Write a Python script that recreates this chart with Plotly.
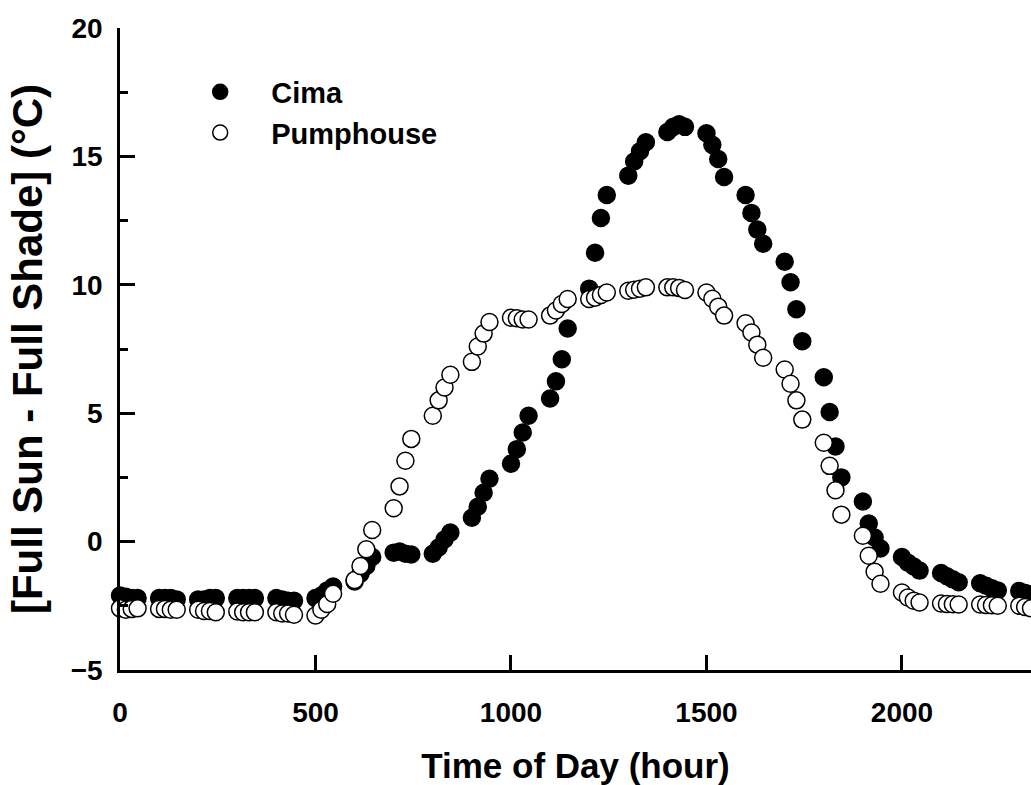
import plotly.graph_objects as go

# Time of day in HHMM, every 15 minutes
time_hhmm = [
    0, 15, 30, 45, 100, 115, 130, 145, 200, 215, 230, 245,
    300, 315, 330, 345, 400, 415, 430, 445, 500, 515, 530, 545,
    600, 615, 630, 645, 700, 715, 730, 745, 800, 815, 830, 845,
    900, 915, 930, 945, 1000, 1015, 1030, 1045, 1100, 1115, 1130, 1145,
    1200, 1215, 1230, 1245, 1300, 1315, 1330, 1345, 1400, 1415, 1430, 1445,
    1500, 1515, 1530, 1545, 1600, 1615, 1630, 1645, 1700, 1715, 1730, 1745,
    1800, 1815, 1830, 1845, 1900, 1915, 1930, 1945, 2000, 2015, 2030, 2045,
    2100, 2115, 2130, 2145, 2200, 2215, 2230, 2245, 2300, 2315, 2330, 2345,
]

# Full sun minus full shade temperature difference (°C)
cima = [
    -2.10, -2.15, -2.20, -2.20, -2.20, -2.20, -2.20, -2.25,
    -2.25, -2.25, -2.20, -2.20, -2.20, -2.20, -2.20, -2.20,
    -2.20, -2.25, -2.30, -2.30, -2.20, -2.10, -1.90, -1.75,
    -1.55, -1.25, -0.95, -0.60, -0.43, -0.39, -0.47, -0.50,
    -0.47, -0.23, 0.08, 0.35, 0.93, 1.36, 1.90, 2.45,
    3.03, 3.60, 4.25, 4.90, 5.57, 6.24, 7.10, 8.30,
    9.85, 11.25, 12.60, 13.50, 14.25, 14.80, 15.20, 15.55,
    15.95, 16.15, 16.25, 16.15, 15.90, 15.45, 14.90, 14.20,
    13.50, 12.80, 12.15, 11.60, 10.90, 10.10, 9.05, 7.80,
    6.40, 5.05, 3.70, 2.50, 1.56, 0.70, 0.16, -0.27,
    -0.60, -0.82, -0.97, -1.13, -1.22, -1.35, -1.47, -1.58,
    -1.62, -1.72, -1.82, -1.90, -1.92, -2.00, -2.05, -2.10,
]

pumphouse = [
    -2.60, -2.65, -2.62, -2.60, -2.62, -2.62, -2.65, -2.65,
    -2.65, -2.70, -2.70, -2.75, -2.72, -2.75, -2.75, -2.75,
    -2.75, -2.80, -2.80, -2.85, -2.88, -2.65, -2.43, -2.03,
    -1.50, -0.95, -0.30, 0.45, 1.30, 2.15, 3.15, 4.00,
    4.90, 5.50, 6.00, 6.50, 7.00, 7.60, 8.10, 8.55,
    8.72, 8.70, 8.65, 8.65, 8.80, 9.00, 9.25, 9.45,
    9.45, 9.50, 9.60, 9.70, 9.77, 9.81, 9.85, 9.90,
    9.90, 9.90, 9.88, 9.80, 9.70, 9.46, 9.15, 8.80,
    8.50, 8.14, 7.67, 7.16, 6.70, 6.15, 5.50, 4.75,
    3.85, 2.95, 2.00, 1.05, 0.23, -0.55, -1.17, -1.64,
    -1.98, -2.18, -2.30, -2.37, -2.41, -2.43, -2.44, -2.45,
    -2.45, -2.47, -2.48, -2.50, -2.50, -2.55, -2.60, -2.60,
]

FONT = "Liberation Sans, Arial, sans-serif"

fig = go.Figure()

# data points
fig.add_trace(go.Scatter(
    x=time_hhmm, y=cima, mode="markers", showlegend=False, cliponaxis=False,
    marker=dict(symbol="circle", size=17, color="black",
                line=dict(color="black", width=1.5)),
))
fig.add_trace(go.Scatter(
    x=time_hhmm, y=pumphouse, mode="markers", showlegend=False, cliponaxis=False,
    marker=dict(symbol="circle", size=17, color="white",
                line=dict(color="black", width=1.5)),
))

# legend entries (smaller symbols)
fig.add_trace(go.Scatter(
    x=[None], y=[None], mode="markers", name="Cima",
    marker=dict(symbol="circle", size=15, color="black",
                line=dict(color="black", width=1.5)),
))
fig.add_trace(go.Scatter(
    x=[None], y=[None], mode="markers", name="Pumphouse",
    marker=dict(symbol="circle", size=15, color="white",
                line=dict(color="black", width=1.5)),
))

axis_common = dict(
    showgrid=False, zeroline=False, showline=True,
    linecolor="black", linewidth=2.5,
    ticks="inside", ticklen=15, tickwidth=3, tickcolor="black",
    tickfont=dict(family=FONT, size=28, color="black", weight="bold"),
)

fig.update_xaxes(
    range=[0, 2330], tickmode="linear", tick0=0, dtick=500,
    ticklabelstandoff=16,
    title=dict(text="Time of Day (hour)", standoff=30,
               font=dict(family=FONT, size=35, color="black", weight="bold")),
    **axis_common,
)
fig.update_yaxes(
    range=[-5, 20], tickmode="linear", tick0=-5, dtick=5,
    ticklabelstandoff=9,
    minor=dict(ticks="inside", ticklen=8, tickwidth=3, tickcolor="black", dtick=2.5),
    title=dict(text="[Full Sun - Full Shade] (°C)", standoff=16,
               font=dict(family=FONT, size=42, color="black", weight="bold")),
    **axis_common,
)

fig.update_layout(
    width=1031, height=785,
    margin=dict(l=120, r=0, t=28, b=115),
    paper_bgcolor="white", plot_bgcolor="white",
    legend=dict(
        x=0.054, y=0.94, xanchor="left", yanchor="top",
        bgcolor="rgba(0,0,0,0)", borderwidth=0,
        itemwidth=92,
        font=dict(family=FONT, size=29, color="black", weight="bold"),
        tracegroupgap=0,
    ),
)

fig.write_html("out.html")
